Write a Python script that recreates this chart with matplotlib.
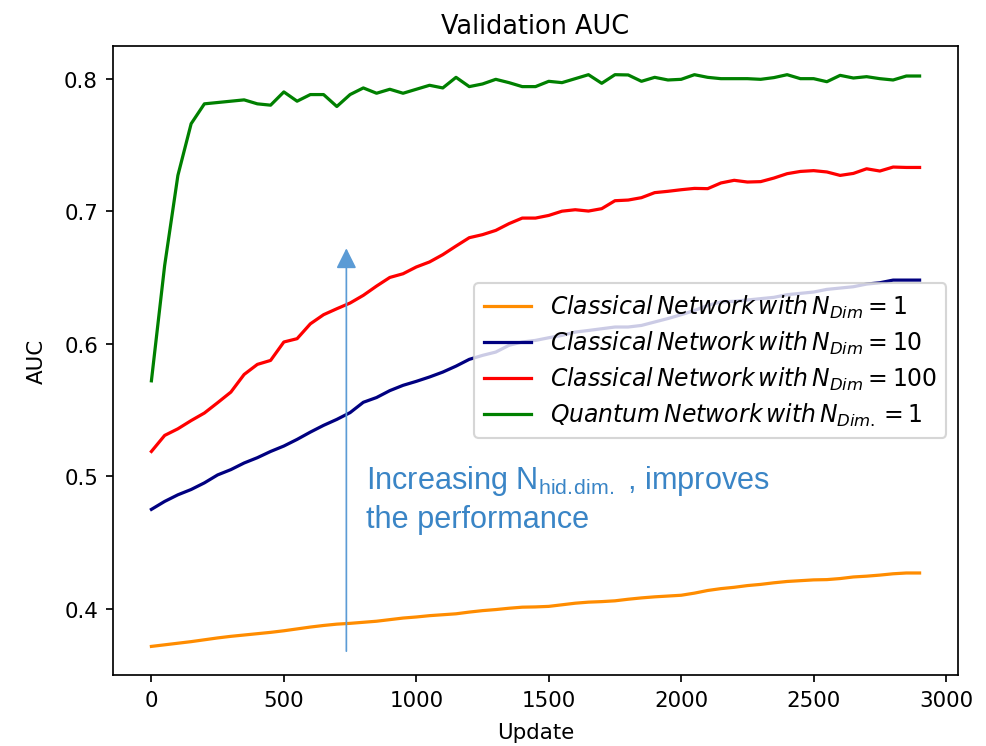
import matplotlib
matplotlib.use("Agg")
import matplotlib.pyplot as plt
import numpy as np

plt.rcParams['mathtext.fontset'] = 'dejavusans'
plt.rcParams['mathtext.rm'] = 'Liberation Sans'

updates = np.arange(0, 2901, 50)

auc_classical_1 = [
    0.3716, 0.3728, 0.3740, 0.3752, 0.3766, 0.3780, 0.3792, 0.3802, 0.3812, 0.3822,
    0.3834, 0.3848, 0.3862, 0.3874, 0.3884, 0.3890, 0.3898, 0.3906, 0.3918, 0.3930,
    0.3938, 0.3948, 0.3955, 0.3962, 0.3975, 0.3986, 0.3994, 0.4004, 0.4012, 0.4014,
    0.4018, 0.4030, 0.4042, 0.4050, 0.4054, 0.4060, 0.4072, 0.4082, 0.4090, 0.4096,
    0.4102, 0.4118, 0.4138, 0.4152, 0.4162, 0.4175, 0.4184, 0.4196, 0.4206, 0.4212,
    0.4218, 0.4220, 0.4228, 0.4240, 0.4246, 0.4254, 0.4264, 0.4270, 0.4270,
]

auc_classical_10 = [
    0.475, 0.481, 0.486, 0.490, 0.495, 0.501, 0.505, 0.510, 0.514, 0.5187,
    0.5228, 0.5278, 0.5333, 0.5384, 0.5429, 0.548, 0.5558, 0.5594, 0.5646, 0.5686,
    0.5716, 0.5749, 0.5786, 0.5831, 0.5882, 0.5912, 0.5937, 0.5988, 0.6013, 0.6025,
    0.6045, 0.6063, 0.6088, 0.610, 0.6113, 0.6126, 0.6126, 0.6138, 0.6164, 0.619,
    0.6219, 0.6251, 0.6289, 0.6315, 0.632, 0.633, 0.634, 0.635, 0.637, 0.638,
    0.639, 0.641, 0.642, 0.643, 0.645, 0.646, 0.648, 0.648, 0.648,
]

auc_classical_100 = [
    0.5187, 0.5308, 0.5358, 0.542, 0.5477, 0.5555, 0.5635, 0.5768, 0.5844, 0.5874,
    0.6013, 0.6038, 0.615, 0.6219, 0.6264, 0.6307, 0.6365, 0.6435, 0.650, 0.6528,
    0.6579, 0.6617, 0.6672, 0.6737, 0.680, 0.6823, 0.6855, 0.6906, 0.6948, 0.6948,
    0.6968, 0.700, 0.7011, 0.7001, 0.7019, 0.7079, 0.7084, 0.7102, 0.714, 0.715,
    0.7162, 0.7172, 0.717, 0.7213, 0.7233, 0.722, 0.7223, 0.725, 0.7283, 0.730,
    0.7306, 0.7296, 0.727, 0.7285, 0.732, 0.7303, 0.7333, 0.733, 0.733,
]

auc_quantum_1 = [
    0.572, 0.659, 0.727, 0.766, 0.781, 0.782, 0.783, 0.784, 0.781, 0.780,
    0.790, 0.783, 0.788, 0.788, 0.779, 0.788, 0.793, 0.789, 0.792, 0.789,
    0.792, 0.795, 0.793, 0.801, 0.794, 0.796, 0.7995, 0.797, 0.794, 0.794,
    0.798, 0.797, 0.800, 0.803, 0.7965, 0.803, 0.8028, 0.798, 0.801, 0.799,
    0.7995, 0.803, 0.801, 0.800, 0.800, 0.800, 0.7995, 0.8008, 0.803, 0.800,
    0.800, 0.7977, 0.8025, 0.8005, 0.8015, 0.800, 0.799, 0.802, 0.802,
]

labels = [
    r'$Classical\,Network\,with\,N_{Dim} = 1$',
    r'$Classical\,Network\,with\,N_{Dim} = 10$',
    r'$Classical\,Network\,with\,N_{Dim} = 100$',
    r'$Quantum\,Network\,with\,N_{Dim.} = 1$',
]
colors = ['darkorange', 'navy', 'red', 'green']

arrow_x = 736
arrow_y0, arrow_y1 = 0.368, 0.672

fig = plt.figure(figsize=(986 / 154, 747 / 154), dpi=154)
ax = fig.add_axes([0.1146, 0.095, 0.857, 0.842])

for series, lab, col in zip(
        [auc_classical_1, auc_classical_10, auc_classical_100, auc_quantum_1],
        labels, colors):
    ax.plot(updates, series, color=col, label=lab, linewidth=1.5)

ax.annotate('', xy=(arrow_x, arrow_y1), xytext=(arrow_x, arrow_y0),
            arrowprops=dict(arrowstyle='-|>,head_length=0.8,head_width=0.4',
                            color='#5b9bd5', lw=0.8, mutation_scale=10,
                            shrinkA=0, shrinkB=0))

ax.text(810, 0.4835,
        'Increasing N$_{\\mathrm{hid.\\!dim.}}$ , improves\nthe performance',
        color='#3a85c6', fontsize=14.3, family='Liberation Sans',
        math_fontfamily='custom', va='center', ha='left', linespacing=1.3)

ax.set_xlim(-145, 3045)
ax.set_ylim(0.350, 0.8246)
ax.set_title('Validation AUC')
ax.set_xlabel('Update', labelpad=5.5)
ax.set_ylabel('AUC', labelpad=8)

ax.legend(loc='center right', fontsize=11, labelspacing=0.38)

fig.savefig('out.png', dpi=154)
